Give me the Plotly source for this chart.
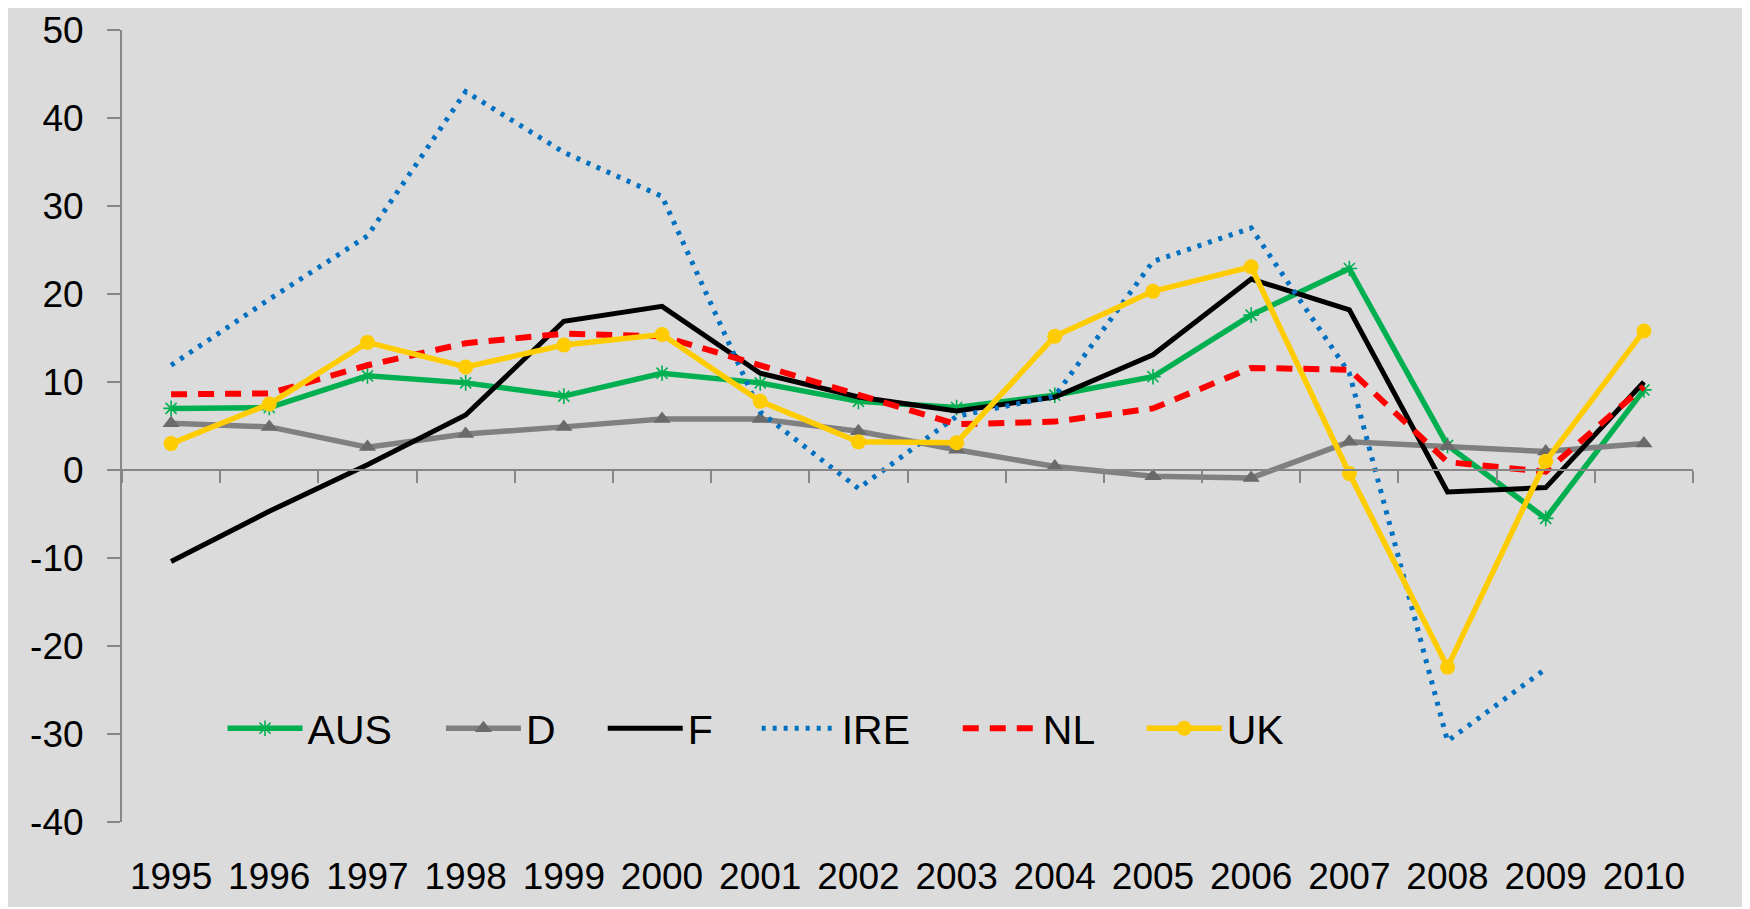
import plotly.graph_objects as go

# data
years = [str(y) for y in range(1995, 2011)]
aus = [7.0, 7.1, 10.7, 9.9, 8.4, 11.0, 9.9, 7.8, 7.1, 8.5, 10.6, 17.6, 22.9, 2.8, -5.5, 9.1]
d = [5.3, 4.9, 2.6, 4.1, 4.9, 5.8, 5.8, 4.4, 2.3, 0.4, -0.7, -0.9, 3.2, 2.7, 2.1, 3.0]
f = [-10.4, -4.7, 0.6, 6.25, 16.9, 18.6, 11.0, 8.3, 6.7, 8.3, 13.1, 21.7, 18.2, -2.5, -2.0, 10.0]
ire = [11.9, 19.4, 26.6, 43.0, 36.1, 31.1, 6.6, -2.1, 6.1, 8.4, 23.7, 27.5, 11.0, -30.8, -22.6, None]
nl = [8.6, 8.7, 11.9, 14.4, 15.5, 15.2, 11.9, 8.6, 5.2, 5.5, 7.0, 11.6, 11.4, 0.9, -0.2, 9.5]
uk = [3.0, 7.5, 14.5, 11.7, 14.2, 15.4, 7.8, 3.2, 3.1, 15.2, 20.3, 23.1, -0.4, -22.4, 1.0, 15.8]
y_ticks = [-40, -30, -20, -10, 0, 10, 20, 30, 40, 50]
y_labels = ["-40", "-30", "-20", "-10", "0", "10", "20", "30", "40", "50"]

bg = "#DBDBDB"
axis_grey = "#868686"

fig = go.Figure()

fig.add_trace(go.Scatter(x=years, y=aus, name="AUS", mode="lines+markers", legend="legend",
                         line=dict(color="#00B050", width=5.5),
                         marker=dict(symbol="asterisk-open", size=13,
                                     line=dict(color="#00B050", width=1.6))))
fig.add_trace(go.Scatter(x=years, y=d, name="D", mode="lines+markers", legend="legend2",
                         line=dict(color="#808080", width=5.5),
                         marker=dict(symbol="triangle-up", size=15, color="#6A6A6A")))
fig.add_trace(go.Scatter(x=years, y=f, name="F", mode="lines", legend="legend3",
                         line=dict(color="#000000", width=5)))
fig.add_trace(go.Scatter(x=years, y=ire, name="IRE", mode="lines", legend="legend4",
                         line=dict(color="#0070C0", width=5, dash="4px,7px")))
fig.add_trace(go.Scatter(x=years, y=nl, name="NL", mode="lines", legend="legend5",
                         line=dict(color="#FF0000", width=6, dash="16px,11px")))
fig.add_trace(go.Scatter(x=years, y=uk, name="UK", mode="lines+markers", legend="legend6",
                         line=dict(color="#FFCC00", width=5.5),
                         marker=dict(symbol="circle", size=15, color="#FFCC00")))

# invisible trace so the zero-line category axis gets drawn
fig.add_trace(go.Scatter(x=years, y=[None] * len(years), xaxis="x2",
                         showlegend=False, hoverinfo="skip", mode="lines"))

# one legend per entry, placed like the original row
legend_x = [0.0640, 0.2030, 0.3060, 0.4040, 0.5320, 0.6491]
legends = {}
for i, lx in enumerate(legend_x):
    key = "legend" if i == 0 else "legend%d" % (i + 1)
    legends[key] = dict(orientation="h", x=lx, y=0.118, xanchor="left", yanchor="middle",
                        bgcolor="rgba(0,0,0,0)", font=dict(size=41), itemwidth=75)

fig.update_layout(
    width=1738, height=899,
    margin=dict(l=114, r=53, t=22, b=85),
    paper_bgcolor=bg,
    plot_bgcolor=bg,
    font=dict(family="Liberation Sans, Arial, sans-serif", color="black"),
    showlegend=True,
    xaxis=dict(type="category", categoryarray=years, range=[-0.5, 15.5],
               showline=False, showgrid=False, zeroline=False, ticks="",
               tickfont=dict(size=37), ticklabelstandoff=29, automargin=False),
    xaxis2=dict(type="category", categoryarray=years, range=[-0.5, 15.5],
                overlaying="x", anchor="free", position=40 / 90,
                showline=True, linecolor=axis_grey, linewidth=2,
                ticks="outside", tickson="boundaries", ticklen=12,
                tickcolor=axis_grey, tickwidth=2,
                showticklabels=False, showgrid=False, zeroline=False),
    yaxis=dict(range=[-40, 50], tickvals=y_ticks, ticktext=y_labels,
               showgrid=False, zeroline=False,
               showline=True, linecolor=axis_grey, linewidth=2,
               ticks="outside", ticklen=13, tickcolor=axis_grey, tickwidth=2,
               tickfont=dict(size=37), ticklabelstandoff=16, automargin=False),
    **legends,
)

fig.write_html("out.html")
